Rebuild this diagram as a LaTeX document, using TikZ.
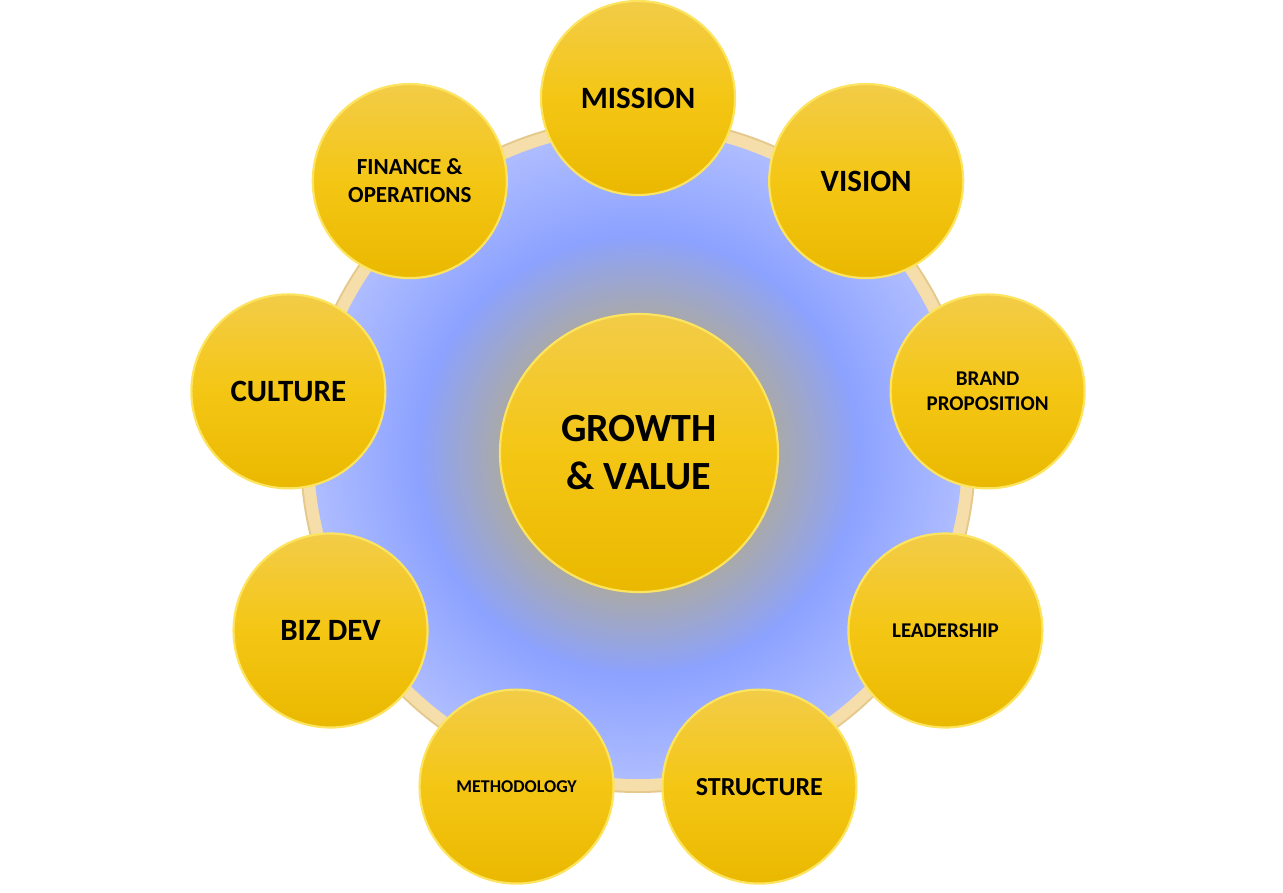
\documentclass[tikz,border=0pt]{standalone}
\usepackage{fontspec}
\setmainfont{Carlito}
\usetikzlibrary{positioning}

\definecolor{balltop}{RGB}{243,204,72}
\definecolor{ballmid}{RGB}{244,198,20}
\definecolor{ballbot}{RGB}{234,184,0}
\definecolor{ballrim}{RGB}{252,228,96}
\definecolor{ringcream}{RGB}{245,222,170}
\definecolor{ringedge}{RGB}{228,200,140}
\definecolor{hubgray}{RGB}{172,170,160}
\definecolor{hubblue}{RGB}{140,162,255}
\definecolor{rimblue}{RGB}{174,188,255}

\pgfdeclareradialshading{hubshade}{\pgfpoint{0bp}{0bp}}{%
  color(0bp)=(hubgray); color(10bp)=(hubgray); color(17bp)=(hubblue);
  color(25bp)=(rimblue); color(50bp)=(rimblue)}

\begin{document}
\begin{tikzpicture}[x=1pt,y=1pt,
    ball/.style={circle,minimum size=194pt,inner sep=0pt,align=center,
      top color=balltop,bottom color=ballbot,middle color=ballmid,
      draw=ballrim,line width=2.2pt,text=black},
    hub/.style={ball,minimum size=278pt},
    big/.style={font=\fontsize{31}{36}\selectfont\bfseries},
    mid/.style={font=\fontsize{26}{31}\selectfont\bfseries},
    small/.style={font=\fontsize{21}{25}\selectfont\bfseries}]
  \useasboundingbox (-638,-439) rectangle (645,453);

  % backdrop disk
  \fill[ringedge] (0,-2) circle (338);
  \fill[ringcream] (0,-2) circle (336);
  \shade[shading=hubshade] (0,-2) circle (324);

  % hub
  \node[hub,font=\fontsize{40}{48}\selectfont\bfseries] (growth) at (1,0) {GROWTH\\\& VALUE};

  % satellites
  \node[ball,big]   (mission)     at (90:355)   {MISSION};
  \node[ball,big]   (vision)      at (50:355)   {VISION};
  \node[ball,small] (brand)       at (10:355)   {BRAND\\PROPOSITION};
  \node[ball,small] (leadership)  at (-30:355)  {LEADERSHIP};
  \node[ball,mid]   (structure)   at (-70:355)  {STRUCTURE};
  \node[ball,font=\fontsize{18}{22}\selectfont\bfseries]
                    (methodology) at (-110:355) {METHODOLOGY};
  \node[ball,big]   (bizdev)      at (-150:355) {BIZ DEV};
  \node[ball,big]   (culture)     at (170:355)  {CULTURE};
  \node[ball,font=\fontsize{23}{28}\selectfont\bfseries]
                    (finance)     at (130:355)  {FINANCE \&\\OPERATIONS};
\end{tikzpicture}
\end{document}
